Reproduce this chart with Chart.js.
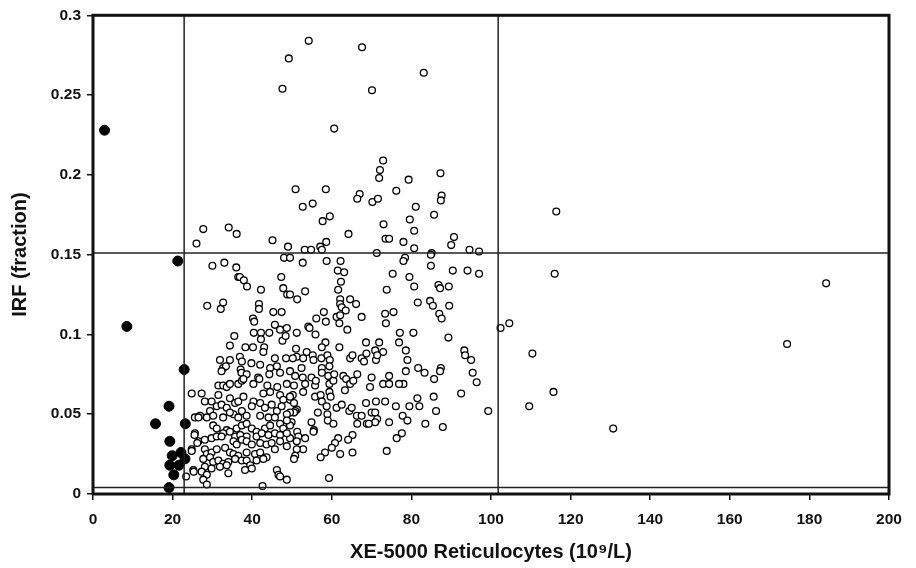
<!DOCTYPE html>
<html>
<head>
<meta charset="utf-8">
<script src="https://cdn.jsdelivr.net/npm/chart.js"></script>
<style>
  html, body { margin: 0; padding: 0; background: #fff; }
  #wrap { width: 916px; height: 568px; }
</style>
</head>
<body>
<div id="wrap"><canvas id="scatter" width="916" height="568"></canvas></div>
<script>
// x ticks / y ticks
const xTicks = [0, 20, 40, 60, 80, 100, 120, 140, 160, 180, 200];
const yTicks = [0, 0.05, 0.1, 0.15, 0.2, 0.25, 0.3];

// cut-off lines
const xCutoffs = [22.9, 101.8];
const yCutoffs = [0.004, 0.151];

// samples below the reticulocyte cut-off (filled)
const lowPoints = [
  [2.9,0.228],[8.5,0.105],[21.3,0.146],[22.9,0.078],[19.1,0.055],[15.7,0.044],[23.2,0.044],
  [19.3,0.033],[19.9,0.024],[22.1,0.026],[23.1,0.022],[19.3,0.018],[21.6,0.018],[20.3,0.012],[19.1,0.004]
];

// all other samples (open)
const otherPoints = [
  [49.2,0.273],[47.6,0.254],[50.9,0.191],[27.7,0.166],[26.0,0.157],[34.1,0.167],[36.1,0.163],[45.1,0.159],[49.0,0.155],
  [54.2,0.284],[67.6,0.280],[83.1,0.264],[70.1,0.253],[60.6,0.229],[72.9,0.209],[72.1,0.203],[71.9,0.198],[87.3,0.201],
  [79.3,0.197],[58.5,0.191],[67.0,0.188],[66.4,0.185],[76.2,0.190],[87.6,0.187],[87.4,0.184],[70.2,0.183],[71.6,0.185],
  [52.7,0.180],[55.2,0.182],[81.1,0.180],[57.7,0.171],[59.5,0.174],[79.6,0.172],[85.7,0.175],[73.0,0.169],[64.2,0.163],
  [80.7,0.165],[73.5,0.160],[74.4,0.160],[78.0,0.158],[90.7,0.161],[90.0,0.156],[58.6,0.158],[57.1,0.155],[53.2,0.153],
  [54.8,0.153],[57.5,0.153],[80.7,0.154],[94.6,0.153],[97.0,0.152],[71.3,0.151],[85.1,0.151],
  [116.4,0.177],[116.0,0.138],[184.2,0.132],[174.4,0.094],[104.6,0.107],[102.4,0.104],[110.4,0.088],[115.7,0.064],
  [109.6,0.055],[130.7,0.041],[99.3,0.052],
  [30.0,0.143],[33.0,0.145],[36.0,0.142],[36.5,0.136],[36.9,0.136],[37.9,0.134],[38.7,0.130],[42.2,0.128],[47.3,0.136],
  [47.8,0.129],[48.8,0.125],[48.0,0.148],[28.7,0.118],[32.1,0.116],[32.7,0.120],[41.7,0.119],[41.7,0.116],[45.3,0.114],
  [47.4,0.114],[40.2,0.110],[40.5,0.108],[45.7,0.106],[47.0,0.103],[48.7,0.104],[40.4,0.101],[42.2,0.101],[44.3,0.101],
  [42.2,0.097],[35.5,0.099],[34.4,0.093],[38.3,0.092],[40.2,0.092],[43.0,0.092],[42.8,0.089],[47.6,0.096],[48.4,0.099],
  [31.9,0.084],[34.4,0.084],[36.9,0.086],[37.4,0.083],[39.8,0.082],[42.0,0.081],[45.7,0.085],[48.5,0.085],[32.7,0.079],
  [33.4,0.080],[37.1,0.078],[44.5,0.079],[46.2,0.080],
  [49.5,0.148],[52.7,0.145],[58.7,0.146],[62.2,0.146],[61.5,0.140],[63.1,0.139],[62.3,0.133],[61.6,0.128],[75.3,0.138],
  [73.8,0.128],[53.3,0.127],[51.3,0.122],[49.5,0.125],[62.1,0.122],[64.6,0.122],[66.1,0.119],[62.1,0.119],[62.5,0.117],
  [63.5,0.115],[58.0,0.114],[56.1,0.110],[58.5,0.108],[61.2,0.111],[62.1,0.112],[61.9,0.107],[67.5,0.111],[73.4,0.113],
  [75.5,0.114],[73.6,0.107],[54.1,0.105],[54.4,0.104],[51.2,0.101],[55.9,0.100],[63.9,0.103],[77.1,0.101],[76.9,0.095],
  [58.4,0.095],[57.5,0.092],[51.0,0.091],[53.7,0.089],[51.2,0.086],[50.2,0.085],[52.8,0.085],[55.2,0.087],[55.4,0.084],
  [57.4,0.085],[58.9,0.087],[59.5,0.084],[61.9,0.092],[68.6,0.095],[71.9,0.095],[70.9,0.090],[72.9,0.089],[64.6,0.085],
  [65.2,0.087],[67.5,0.085],[68.1,0.083],[68.7,0.088],[71.1,0.084],[71.4,0.087],[52.4,0.079],[57.5,0.079],[59.4,0.080],
  [78.4,0.148],[78.0,0.146],[84.9,0.150],[84.9,0.143],[90.4,0.140],[94.1,0.140],[97.0,0.138],[79.5,0.136],[80.7,0.130],
  [86.8,0.131],[87.2,0.129],[89.4,0.130],[81.6,0.120],[84.7,0.121],[85.4,0.118],[89.5,0.118],[87.0,0.113],[87.6,0.110],
  [80.5,0.101],[89.3,0.098],[78.6,0.090],[93.3,0.090],[93.5,0.087],[95.0,0.084],[79.0,0.084],[81.7,0.079],[87.4,0.079],
  [78.6,0.077],[83.3,0.076],[87.2,0.077],[85.7,0.072],[95.4,0.076],[96.4,0.070],[78.0,0.069],[92.5,0.063],[81.5,0.060],
  [85.6,0.061],[79.5,0.055],[82.0,0.055],[86.2,0.052],[77.8,0.049],[79.0,0.046],[83.5,0.044],[87.9,0.042],[77.6,0.038],
  [49.5,0.077],[50.8,0.074],[52.7,0.073],[53.3,0.069],[54.9,0.073],[55.8,0.068],[56.0,0.071],[57.5,0.076],[59.1,0.074],
  [59.4,0.069],[60.4,0.071],[60.6,0.075],[62.9,0.074],[63.6,0.072],[63.3,0.065],[64.6,0.069],[65.4,0.071],[66.4,0.075],
  [70.0,0.073],[69.6,0.067],[72.9,0.069],[74.4,0.074],[74.4,0.069],[76.9,0.069],[50.5,0.068],[52.8,0.064],[50.2,0.062],
  [49.5,0.059],[50.5,0.057],[51.2,0.053],[50.8,0.052],[50.5,0.051],[49.5,0.051],[55.8,0.061],[57.2,0.062],[57.5,0.058],
  [58.7,0.055],[59.4,0.064],[59.7,0.061],[56.5,0.051],[58.9,0.050],[59.0,0.046],[60.4,0.044],[61.2,0.054],[62.5,0.056],
  [64.4,0.052],[65.0,0.054],[66.3,0.049],[67.5,0.049],[66.4,0.044],[68.6,0.057],[71.1,0.058],[73.4,0.058],[70.0,0.051],
  [70.9,0.051],[71.4,0.047],[70.9,0.045],[68.8,0.044],[69.3,0.044],[74.4,0.045],[76.1,0.055],[49.9,0.045],[49.5,0.043],
  [54.9,0.045],[55.5,0.040],[55.4,0.039],[51.3,0.039],[51.6,0.036],[49.5,0.035],[51.2,0.033],[53.3,0.035],[61.6,0.035],
  [60.8,0.032],[60.0,0.029],[65.2,0.037],[64.1,0.034],[58.3,0.026],[57.2,0.023],[52.8,0.028],[51.2,0.028],[50.8,0.024],
  [50.5,0.022],[62.1,0.025],[65.2,0.026],[73.8,0.027],[76.3,0.035],[59.3,0.010],
  [32.3,0.077],[37.3,0.076],[38.6,0.075],[41.5,0.073],[44.3,0.075],[47.0,0.076],[31.5,0.068],[32.7,0.068],[33.6,0.067],
  [34.4,0.069],[36.5,0.069],[37.4,0.071],[37.8,0.072],[40.3,0.069],[41.8,0.072],[43.8,0.068],[46.3,0.067],[48.7,0.069],
  [24.8,0.063],[27.3,0.063],[31.5,0.062],[28.1,0.058],[29.8,0.058],[34.4,0.060],[35.7,0.057],[36.5,0.058],[37.8,0.061],
  [40.3,0.058],[42.8,0.063],[44.5,0.064],[47.0,0.062],[47.8,0.059],[49.5,0.061],
  [29.4,0.052],[31.1,0.055],[32.3,0.056],[33.6,0.054],[35.3,0.050],[34.4,0.051],[37.4,0.052],[38.6,0.049],[39.9,0.055],
  [42.0,0.057],[43.2,0.054],[44.9,0.056],[46.2,0.052],[47.4,0.055],[48.7,0.050],[25.6,0.048],[26.9,0.049],[28.6,0.048],
  [30.2,0.049],[32.7,0.048],[36.5,0.048],[42.0,0.049],[44.1,0.048],[45.7,0.048],
  [30.2,0.043],[31.1,0.041],[33.6,0.040],[32.7,0.038],[34.4,0.039],[36.1,0.041],[37.4,0.043],[38.6,0.044],[39.9,0.041],
  [41.1,0.039],[43.2,0.041],[44.5,0.043],[47.0,0.044],[47.8,0.041],[48.7,0.046],[25.6,0.038],[26.5,0.033],[28.1,0.034],
  [29.8,0.035],[31.1,0.036],[32.3,0.036],[35.7,0.036],[37.0,0.037],[38.6,0.036],[41.1,0.036],[42.4,0.038],[44.1,0.037],
  [45.7,0.038],[47.0,0.037],[48.7,0.038],
  [35.3,0.033],[36.1,0.031],[37.4,0.034],[38.6,0.033],[39.9,0.031],[42.0,0.032],[43.6,0.031],[44.9,0.032],[47.0,0.033],
  [48.7,0.030],[24.8,0.028],[28.1,0.028],[28.6,0.025],[29.8,0.026],[31.1,0.028],[33.2,0.029],[34.4,0.026],[35.3,0.025],
  [36.5,0.024],[38.6,0.026],[40.7,0.025],[42.0,0.026],[43.6,0.023],[45.7,0.028],
  [27.7,0.022],[29.4,0.023],[30.2,0.020],[31.5,0.021],[32.7,0.019],[34.0,0.020],[35.7,0.022],[37.4,0.021],[38.6,0.021],
  [39.5,0.018],[39.9,0.016],[41.1,0.021],[42.8,0.022],[28.1,0.017],[29.8,0.016],[31.9,0.017],[33.6,0.018],[25.2,0.015],
  [27.3,0.014],[28.6,0.012],[34.0,0.013],[38.2,0.015],[46.2,0.015],[46.6,0.012],[47.0,0.011],[23.4,0.011],
  [27.7,0.009],[28.6,0.006],[42.6,0.005],[48.7,0.009],
  [26.5,0.048],[25.5,0.037],[26.2,0.032],[24.8,0.027],[25.3,0.014]
];

const toXY = arr => arr.map(p => ({ x: p[0], y: p[1] }));

const tickFont = { family: "'Liberation Sans', Arial, sans-serif", size: 15.5, weight: "bold" };
const titleFont = { family: "'Liberation Sans', Arial, sans-serif", size: 20, weight: "bold" };

const framePlugin = {
  id: "frame",
  afterDatasetsDraw(chart) {
    const { ctx, chartArea: a, scales } = chart;
    ctx.save();
    ctx.strokeStyle = "#222";
    ctx.lineWidth = 1.5;
    xCutoffs.forEach(v => {
      const px = scales.x.getPixelForValue(v);
      ctx.beginPath(); ctx.moveTo(px, a.top); ctx.lineTo(px, a.bottom); ctx.stroke();
    });
    yCutoffs.forEach(v => {
      const py = scales.y.getPixelForValue(v);
      ctx.beginPath(); ctx.moveTo(a.left, py); ctx.lineTo(a.right, py); ctx.stroke();
    });
    ctx.lineWidth = 3;
    ctx.strokeStyle = "#111";
    ctx.strokeRect(a.left, a.top, a.right - a.left, a.bottom - a.top);
    ctx.restore();
  }
};

new Chart(document.getElementById("scatter").getContext("2d"), {
  type: "scatter",
  data: {
    datasets: [
      {
        label: "low",
        data: toXY(lowPoints),
        pointRadius: 5,
        pointBackgroundColor: "#000",
        pointBorderColor: "#000",
        pointBorderWidth: 1,
        order: 0
      },
      {
        label: "other",
        data: toXY(otherPoints),
        pointRadius: 3.4,
        pointBackgroundColor: "#fff",
        pointBorderColor: "#000",
        pointBorderWidth: 1.3,
        order: 1
      }
    ]
  },
  options: {
    responsive: false,
    animation: false,
    layout: { padding: { top: 13, right: 27, left: 0, bottom: 0 } },
    plugins: { legend: { display: false }, tooltip: { enabled: false } },
    scales: {
      x: {
        type: "linear",
        min: 0,
        max: 200,
        afterBuildTicks: s => { s.ticks = xTicks.map(v => ({ value: v })); },
        afterFit: s => { s.height = 74; },
        ticks: { font: tickFont, color: "#111", padding: 10 },
        grid: { drawOnChartArea: false, tickLength: 6, color: "#111", lineWidth: 1.5 },
        border: { display: false },
        title: { display: true, text: "XE-5000 Reticulocytes (10\u2079/L)", font: titleFont, color: "#111", padding: { top: 6 } }
      },
      y: {
        type: "linear",
        min: 0,
        max: 0.3,
        afterBuildTicks: s => { s.ticks = yTicks.map(v => ({ value: v })); },
        afterFit: s => { s.width = 93; },
        ticks: { font: tickFont, color: "#111", padding: 6, callback: v => String(+v.toFixed(2)) },
        grid: { drawOnChartArea: false, tickLength: 6, color: "#111", lineWidth: 1.5 },
        border: { display: false },
        title: { display: true, text: "IRF (fraction)", font: titleFont, color: "#111", padding: { top: 8, bottom: 4 } }
      }
    }
  },
  plugins: [framePlugin]
});
</script>
</body>
</html>
